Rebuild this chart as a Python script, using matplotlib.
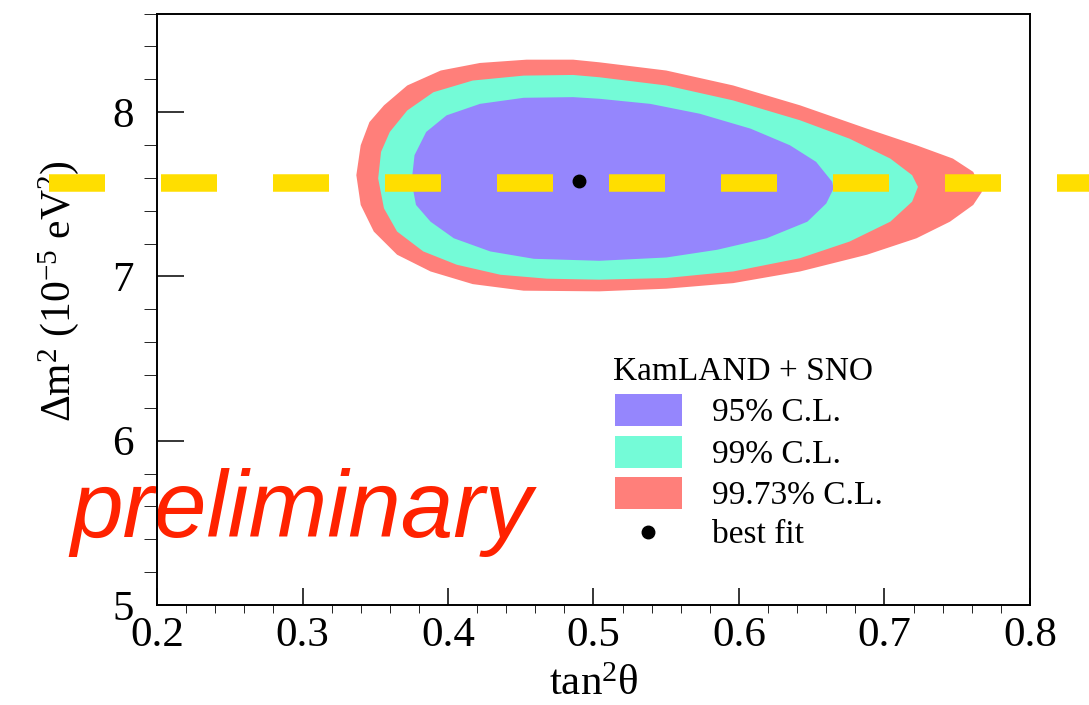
import matplotlib
matplotlib.use('Agg')
import matplotlib.pyplot as plt
from matplotlib.patches import Rectangle
from matplotlib.lines import Line2D
from matplotlib.ticker import MultipleLocator

plt.rcParams['font.family'] = ['Liberation Serif', 'DejaVu Serif']
plt.rcParams['mathtext.fontset'] = 'custom'
plt.rcParams['mathtext.rm'] = 'Liberation Serif'
plt.rcParams['mathtext.it'] = 'Liberation Serif:italic'

# contour outlines (tan^2 theta, dm^2 in 1e-5 eV^2)
cl9973_x = [0.337, 0.340, 0.346, 0.356, 0.372, 0.395, 0.422, 0.454, 0.486, 0.504,
            0.550, 0.596, 0.642, 0.688, 0.722, 0.747, 0.761, 0.767, 0.761, 0.745,
            0.722, 0.688, 0.642, 0.596, 0.550, 0.504, 0.452, 0.417, 0.388, 0.365,
            0.349, 0.340]
cl9973_y = [7.616, 7.798, 7.939, 8.041, 8.162, 8.253, 8.299, 8.319, 8.319, 8.303,
            8.253, 8.162, 8.041, 7.899, 7.798, 7.717, 7.636, 7.515, 7.435, 7.333,
            7.232, 7.132, 7.030, 6.959, 6.925, 6.909, 6.913, 6.953, 7.030, 7.132,
            7.273, 7.435]

cl99_x = [0.352, 0.354, 0.360, 0.372, 0.390, 0.417, 0.452, 0.486, 0.504, 0.550,
          0.596, 0.642, 0.676, 0.704, 0.719, 0.723, 0.719, 0.704, 0.676, 0.642,
          0.596, 0.550, 0.504, 0.468, 0.436, 0.406, 0.383, 0.365, 0.356]
cl99_y = [7.596, 7.758, 7.879, 8.010, 8.121, 8.192, 8.222, 8.226, 8.212, 8.162,
          8.071, 7.950, 7.838, 7.717, 7.616, 7.545, 7.455, 7.333, 7.212, 7.111,
          7.030, 6.990, 6.980, 6.986, 7.010, 7.071, 7.152, 7.273, 7.414]

cl95_x = [0.375, 0.377, 0.385, 0.399, 0.422, 0.452, 0.486, 0.504, 0.539, 0.573,
          0.608, 0.635, 0.653, 0.664, 0.665, 0.660, 0.647, 0.619, 0.585, 0.550,
          0.504, 0.459, 0.429, 0.404, 0.388, 0.378]
cl95_y = [7.576, 7.738, 7.879, 7.980, 8.050, 8.087, 8.091, 8.081, 8.050, 7.990,
          7.899, 7.798, 7.697, 7.576, 7.535, 7.444, 7.333, 7.232, 7.162, 7.115,
          7.095, 7.107, 7.152, 7.232, 7.333, 7.435]

best_fit = (0.49, 7.58)
dm2_line = 7.57
line_x = [0.1258, 0.87]

legend_title = "KamLAND + SNO"
legend_labels = ["95% C.L.", "99% C.L.", "99.73% C.L.", "best fit"]
colors = ["#9586fd", "#74fbd7", "#ff7f7a"]
yellow = "#ffde00"

W, H = 1089, 705


def fx(px):
    return px / W


def fy(py):
    return 1 - py / H


fig = plt.figure(figsize=(W / 100, H / 100), dpi=100)
ax = fig.add_axes([fx(157), fy(605), fx(1030) - fx(157), fy(13.5) - fy(605)])

ax.fill(cl9973_x, cl9973_y, color=colors[2], lw=0, zorder=2)
ax.fill(cl99_x, cl99_y, color=colors[1], lw=0, zorder=2.1)
ax.fill(cl95_x, cl95_y, color=colors[0], lw=0, zorder=2.2)

ax.plot(line_x, [dm2_line, dm2_line], color=yellow, lw=12.6,
        dashes=(3.2, 3.2), solid_capstyle='butt', dash_capstyle='butt',
        clip_on=False, zorder=5)
ax.plot([best_fit[0]], [best_fit[1]], 'o', color='black', ms=9, zorder=6)

ax.set_xlim(0.2, 0.8)
ax.set_ylim(5, 8.6)
ax.xaxis.set_major_locator(MultipleLocator(0.1))
ax.xaxis.set_minor_locator(MultipleLocator(0.02))
ax.yaxis.set_major_locator(MultipleLocator(1))
ax.yaxis.set_minor_locator(MultipleLocator(0.2))
ax.tick_params(direction='in', width=1.1, labelsize=31)
ax.tick_params(axis='x', which='major', length=12, pad=8)
ax.tick_params(axis='x', which='minor', length=6)
ax.tick_params(axis='y', which='major', length=19.5, pad=17)
ax.tick_params(axis='y', which='minor', length=9.5)
ax.set_xticklabels([f"{v:.1f}" for v in ax.get_xticks()])
for s in ax.spines.values():
    s.set_linewidth(1.4)

ax.set_xlabel("tan$^{2}$θ", fontsize=31, va='baseline')
ax.xaxis.set_label_coords(0.5, (605 - 695) / 591.5)
ax.set_ylabel("Δm$^{2}$ (10$^{-5}$ eV$^{2}$)", fontsize=30, va='baseline')
ax.yaxis.set_label_coords((70 - 157) / 873, (605 - 291) / 591.5)

ax.text(fx(70), fy(537), "preliminary", transform=fig.transFigure,
        fontsize=68, family='Liberation Sans', style='italic',
        color='#ff2200', va='baseline', zorder=1)

# legend drawn by hand to match the ROOT layout
fig.text(fx(613), fy(380), legend_title, fontsize=24, va='baseline')
row_y = [410, 452, 492.5, 532]
for i, lab in enumerate(legend_labels):
    if i < 3:
        fig.add_artist(Rectangle((fx(615), fy(row_y[i] + 16)), fx(67), 32 / H,
                                 color=colors[i], lw=0, transform=fig.transFigure))
    else:
        fig.add_artist(Line2D([fx(648)], [fy(row_y[i])], marker='o', color='black',
                              ms=9, transform=fig.transFigure))
    fig.text(fx(712), fy(row_y[i] + 11), lab, fontsize=24, va='baseline')

fig.savefig("out.png", dpi=100)
